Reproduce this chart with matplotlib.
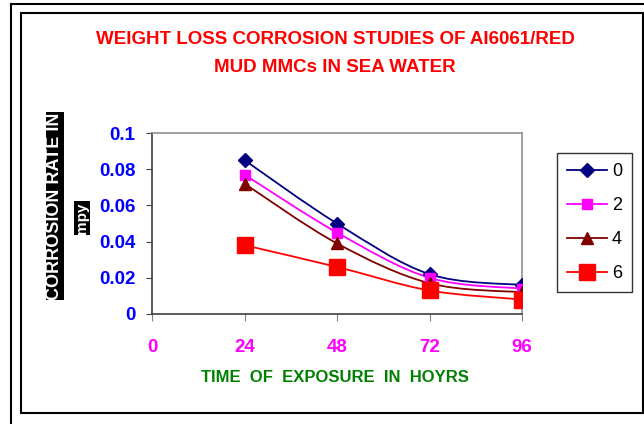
import numpy as np
import matplotlib.pyplot as plt
from matplotlib.path import Path
from matplotlib.patches import PathPatch, Rectangle
from matplotlib.lines import Line2D

plt.rcParams['font.family'] = ['Liberation Sans', 'DejaVu Sans']

hours = [24, 48, 72, 96]
rate_0 = [0.085, 0.050, 0.022, 0.016]
rate_2 = [0.077, 0.045, 0.020, 0.014]
rate_4 = [0.072, 0.039, 0.017, 0.012]
rate_6 = [0.038, 0.026, 0.013, 0.008]
series_labels = ['0', '2', '4', '6']
x_ticks = [0, 24, 48, 72, 96]
y_ticks = [0, 0.02, 0.04, 0.06, 0.08, 0.1]
y_tick_labels = ['0', '0.02', '0.04', '0.06', '0.08', '0.1']


def smooth_path(x, y):
    # excel-like smoothed line: bezier segments through the points
    x = np.asarray(x, float)
    y = np.asarray(y, float)
    pts = np.column_stack([x, y])
    verts = [pts[0]]
    codes = [Path.MOVETO]
    n = len(pts)
    for i in range(n - 1):
        p0 = pts[i - 1] if i > 0 else pts[i]
        p1 = pts[i]
        p2 = pts[i + 1]
        p3 = pts[i + 2] if i + 2 < n else pts[i + 1]
        c1 = p1 + (p2 - p0) / 6
        c2 = p2 - (p3 - p1) / 6
        verts += [c1, c2, p2]
        codes += [Path.CURVE4] * 3
    return Path(verts, codes)


fig = plt.figure(figsize=(6.44, 4.24), dpi=100)
ax = fig.add_axes([152 / 644, 1 - 314 / 424, 370 / 644, 181 / 424])

styles = [
    (rate_0, '#000080', 'D', 7),
    (rate_2, '#FF00FF', 's', 7),
    (rate_4, '#800000', '^', 8),
    (rate_6, '#FF0000', 's', 12),
]
handles = []
for (vals, col, mk, ms), lab in zip(styles, series_labels):
    ax.add_patch(PathPatch(smooth_path(hours, vals), facecolor='none',
                           edgecolor=col, lw=1.3, zorder=2))
    ax.plot(hours, vals, linestyle='none', marker=mk, markersize=ms,
            color=col, zorder=3)
    handles.append(Line2D([], [], color=col, lw=1.3, marker=mk,
                          markersize=ms, label=lab))

ax.set_xlim(0, 96)
ax.set_ylim(0, 0.1)
ax.set_xticks(x_ticks)
ax.set_xticklabels([str(t) for t in x_ticks], color='#FF00FF',
                   fontsize=13.5, fontweight='bold')
ax.set_yticks(y_ticks)
ax.set_yticklabels(y_tick_labels, color='#0000FF', fontsize=13.5,
                   fontweight='bold')
ax.tick_params(axis='x', direction='out', length=5, pad=13, color='#808080')
ax.tick_params(axis='y', direction='out', length=4, pad=8, color='#404040')
ax.spines['left'].set_color('#404040')
ax.spines['bottom'].set_color('#404040')
ax.spines['top'].set_color('#909090')
ax.spines['right'].set_color('#909090')
for s in ax.spines.values():
    s.set_linewidth(1.2)

leg = fig.legend(handles=handles, loc='upper left',
                 bbox_to_anchor=(557 / 644, 1 - 153 / 424),
                 frameon=True, fancybox=False, edgecolor='black',
                 fontsize=13, handlelength=2.2, labelspacing=0.95,
                 borderpad=0.55, handletextpad=0.3, borderaxespad=0)
leg.get_frame().set_linewidth(1.0)

fig.text(335 / 644, 1 - 40 / 424, 'WEIGHT LOSS CORROSION STUDIES OF AI6061/RED',
         color='#FF0000', fontsize=13.5, fontweight='bold',
         ha='center', va='center')
fig.text(335 / 644, 1 - 68 / 424, 'MUD MMCs IN SEA WATER',
         color='#FF0000', fontsize=13.5, fontweight='bold',
         ha='center', va='center')
fig.text(335 / 644, 1 - 378 / 424, 'TIME  OF  EXPOSURE  IN  HOYRS',
         color='#008000', fontsize=12, fontweight='bold',
         ha='center', va='center')

fig.text(55 / 644, 1 - 206 / 424, 'CORROSION RATE IN', color='white',
         fontsize=13, fontweight='bold', rotation=90,
         ha='center', va='center',
         bbox=dict(facecolor='black', edgecolor='none', pad=0.5))
fig.text(82 / 644, 1 - 218 / 424, 'mpy', color='white',
         fontsize=11, fontweight='bold', rotation=90,
         ha='center', va='center',
         bbox=dict(facecolor='black', edgecolor='none', pad=0.8))

# chart frames
fig.add_artist(Rectangle((21 / 644, 1 - 413 / 424), 622 / 644, 400 / 424,
                         transform=fig.transFigure, fill=False,
                         edgecolor='black', lw=1.5))
fig.add_artist(Line2D([11 / 644, 11 / 644], [0, 1 - 4 / 424],
                      transform=fig.transFigure, color='black', lw=1.5))
fig.add_artist(Line2D([11 / 644, 1], [1 - 4 / 424, 1 - 4 / 424],
                      transform=fig.transFigure, color='black', lw=1.5))

fig.savefig('out.png', dpi=100)
